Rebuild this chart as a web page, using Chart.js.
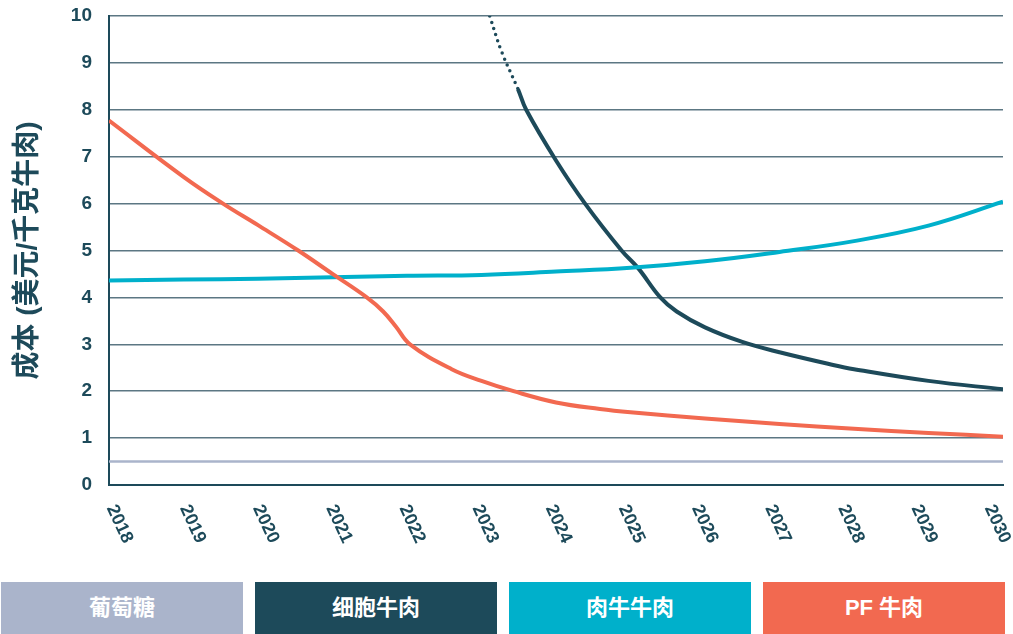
<!DOCTYPE html>
<html>
<head>
<meta charset="utf-8">
<script src="https://cdn.jsdelivr.net/npm/chart.js@4/dist/chart.umd.min.js"></script>
<style>
  body { margin: 0; background: #fff; }
  #wrap { position: relative; width: 1013px; height: 634px; overflow: hidden; }
  #myChart { position: absolute; left: 0; top: 0; }
  #legend { position: absolute; left: 1px; top: 582px; display: flex; gap: 12px; }
  #legend div {
    width: 242px; height: 48px; padding-top: 7px; line-height: 54px; text-align: center;
    color: #fff; font: bold 22px 'Liberation Sans', 'Noto Sans CJK SC', sans-serif;
  }
</style>
</head>
<body>
<div id="wrap">
  <canvas id="myChart" width="1013" height="570"></canvas>
  <div id="legend"></div>
</div>
<script>
/* cost per kg, by year */
const xTickYears = [2018, 2019, 2020, 2021, 2022, 2023, 2024, 2025, 2026, 2027, 2028, 2029, 2030];

const glucoseYears = [2018, 2030];
const glucoseCost = [0.5, 0.5];

const cellYears = [2023.11, 2023.27, 2023.49, 2023.6, 2024, 2024.39, 2024.88, 2025.1, 2025.4, 2025.62, 2026, 2026.5, 2027, 2027.72, 2028, 2029, 2030];
const cellCost = [10, 9.24, 8.44, 8.0, 6.92, 6.0, 5.0, 4.63, 4.0, 3.7, 3.36, 3.05, 2.83, 2.56, 2.47, 2.22, 2.04];

const beefYears = [2018, 2019, 2020, 2021, 2022, 2023, 2024, 2025, 2026, 2027, 2028, 2029, 2030];
const beefCost = [4.36, 4.38, 4.40, 4.43, 4.46, 4.48, 4.55, 4.63, 4.77, 4.97, 5.2, 5.53, 6.04];

const pfYears = [2018, 2019, 2019.53, 2020, 2020.54, 2021, 2021.46, 2021.68, 2021.85, 2022.04, 2022.6, 2023, 2023.43, 2024, 2024.59, 2025, 2026, 2027, 2028, 2029, 2030];
const pfCost = [7.77, 6.57, 6.0, 5.54, 5.0, 4.5, 4.0, 3.7, 3.38, 3.0, 2.47, 2.22, 2.0, 1.76, 1.62, 1.55, 1.42, 1.3, 1.2, 1.11, 1.03];

const seriesNames = ['葡萄糖', '细胞牛肉', '肉牛牛肉', 'PF 牛肉'];
const seriesColors = ['#aab4cb', '#1d4a5a', '#00b0cb', '#f26950'];

const dark = '#1d4a5a';
const fontFamily = "'Liberation Sans', 'Noto Sans CJK SC', sans-serif";

function pts(xs, ys){
  return xs.map((x, i) => ({x: x, y: ys[i]}));
}

// legend boxes under the chart
const legend = document.getElementById('legend');
seriesNames.forEach(function(name, i){
  const d = document.createElement('div');
  d.style.background = seriesColors[i];
  d.textContent = name;
  legend.appendChild(d);
});

// x labels lean clockwise, chart.js only rotates the other way
const yearLabels = {
  id: 'yearLabels',
  afterDraw: chart => {
    const xAxis = chart.scales.x;
    const left = chart.chartArea.left;
    const ctx = chart.ctx;
    ctx.save();
    ctx.fillStyle = dark;
    ctx.font = 'bold 18px ' + fontFamily;
    ctx.textAlign = 'left';
    ctx.textBaseline = 'middle';
    xTickYears.forEach(function(year){
      const px = xAxis.getPixelForValue(year);
      ctx.save();
      ctx.translate(left + (px - left) * 0.982 + 2, chart.chartArea.bottom + 21);
      ctx.rotate(65 * Math.PI / 180);
      ctx.fillText(String(year), 0, 0);
      ctx.restore();
    });
    ctx.restore();
  }
};

const line = (name, data, color, width) => ({
  label: name,
  data: data,
  borderColor: color,
  borderWidth: width,
  pointRadius: 0,
  fill: false,
  tension: 0.4
});

const cellSet = line(seriesNames[1], pts(cellYears, cellCost), seriesColors[1], 4);
cellSet.segment = {
  borderDash: ctx => ctx.p1DataIndex <= 2 ? [0, 6.5] : undefined,
  borderCapStyle: ctx => ctx.p1DataIndex <= 2 ? 'round' : 'butt',
  borderWidth: ctx => ctx.p1DataIndex <= 2 ? 3.5 : 4
};

const myChart = new Chart(document.getElementById('myChart'), {
  type: 'line',
  plugins: [yearLabels],
  data: {
    datasets: [
      line(seriesNames[0], pts(glucoseYears, glucoseCost), seriesColors[0], 2.5),
      line(seriesNames[3], pts(pfYears, pfCost), seriesColors[3], 4),
      line(seriesNames[2], pts(beefYears, beefCost), seriesColors[2], 4),
      cellSet
    ]
  },
  options: {
    responsive: false,
    animation: false,
    events: [],
    layout: { padding: { top: 16, right: 10, left: 0, bottom: 0 } },
    plugins: {
      legend: { display: false },
      tooltip: { enabled: false }
    },
    scales: {
      x: {
        type: 'linear',
        min: 2018,
        max: 2030,
        grid: { display: false },
        border: { display: true, color: dark, width: 2 },
        ticks: { display: false, stepSize: 1 },
        afterFit: s => { s.height = 85; s.paddingLeft = 0; s.paddingRight = 0; }
      },
      y: {
        min: 0,
        max: 10,
        grid: { color: '#5c7783', lineWidth: 1.5, drawTicks: false },
        border: { display: true, color: dark, width: 2 },
        ticks: {
          stepSize: 1,
          padding: 17,
          color: dark,
          font: { family: fontFamily, size: 19, weight: 'bold' }
        },
        title: {
          display: true,
          text: '成本 (美元/千克牛肉)',
          color: dark,
          font: { family: fontFamily, size: 28, weight: 'bold' },
          padding: { top: 11, bottom: 0 }
        },
        // the area edges are set by the layout padding, not the labels
        afterFit: s => { s.width = 109; s.paddingTop = 0; s.paddingBottom = 0; }
      }
    }
  }
});
</script>
</body>
</html>
